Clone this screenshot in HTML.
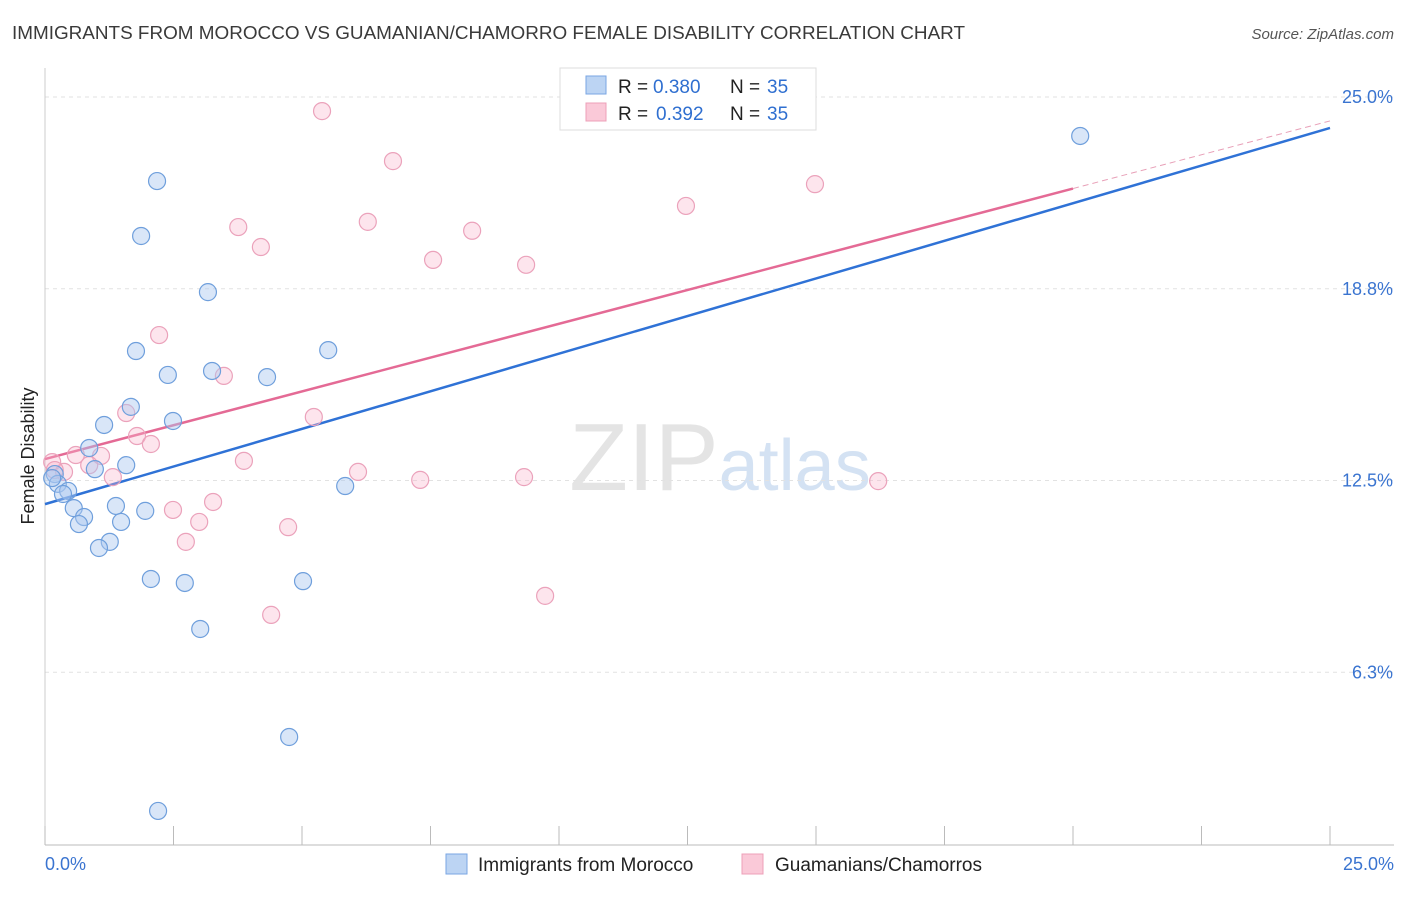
<!DOCTYPE html>
<html><head><meta charset="utf-8">
<style>
body{margin:0;background:#fff;font-family:"Liberation Sans",sans-serif;}
svg text{font-family:"Liberation Sans",sans-serif;}
</style></head>
<body>
<svg id="chart" width="1406" height="892" xmlns="http://www.w3.org/2000/svg">
<text x="12" y="39" font-size="18.9" fill="#3a3a3a">IMMIGRANTS FROM MOROCCO VS GUAMANIAN/CHAMORRO FEMALE DISABILITY CORRELATION CHART</text>
<text x="1394" y="39" font-size="15" fill="#555" text-anchor="end" font-style="italic">Source: ZipAtlas.com</text>
<text x="720" y="490" font-size="96" text-anchor="middle" fill="#e4e4e4" font-family="Liberation Serif">ZIP<tspan fill="#d4e2f3" font-family="Liberation Sans" font-size="72">atlas</tspan></text>
<g id="grid"></g>
<g id="axes"></g>
<g id="lines"></g>
<g id="points"></g>
<text transform="translate(34,456) rotate(-90)" font-size="18" fill="#222" text-anchor="middle">Female Disability</text>
<g>
<rect x="560" y="68" width="256" height="62" fill="#fff" stroke="#ddd"/>
<rect x="586" y="76" width="20" height="18" fill="#bcd4f3" stroke="#7aa6e3"/>
<rect x="586" y="103" width="20" height="18" fill="#fac9d8" stroke="#eda0b8"/>
<text x="618" y="93" font-size="19" fill="#222">R =</text>
<text x="653" y="93" font-size="19" fill="#2f6fd0">0.380</text>
<text x="730" y="93" font-size="19" fill="#222">N =</text>
<text x="767" y="93" font-size="19" fill="#2f6fd0">35</text>
<text x="618" y="120" font-size="19" fill="#222">R =</text>
<text x="656" y="120" font-size="19" fill="#2f6fd0">0.392</text>
<text x="730" y="120" font-size="19" fill="#222">N =</text>
<text x="767" y="120" font-size="19" fill="#2f6fd0">35</text>
</g>
<g>
<rect x="446" y="854" width="21" height="20" fill="#bcd4f3" stroke="#7aa6e3"/>
<text x="478" y="871" font-size="19" fill="#222">Immigrants from Morocco</text>
<rect x="742" y="854" width="21" height="20" fill="#fac9d8" stroke="#eda0b8"/>
<text x="775" y="871" font-size="19" fill="#222">Guamanians/Chamorros</text>
</g>
</svg>
<script>
const yTicks=[25.0,18.75,12.5,6.25];
const yTickLabels=["25.0%","18.8%","12.5%","6.3%"];
const xTickLabels=["0.0%","25.0%"];
const moroccoX=[20.14,2.18,1.87,3.17,1.77,5.51,2.39,3.25,4.32,1.67,1.15,2.49,0.86,1.58,0.97,0.19,0.25,0.45,0.35,0.56,1.38,1.95,0.76,0.66,1.48,1.26,1.05,2.06,2.72,5.02,5.84,3.02,4.75,2.20,0.14];
const moroccoY=[23.73,22.26,20.47,18.64,16.72,16.75,15.94,16.07,15.87,14.90,14.31,14.44,13.56,13.00,12.87,12.71,12.39,12.16,12.06,11.60,11.67,11.51,11.31,11.08,11.15,10.50,10.30,9.29,9.16,9.22,12.32,7.66,4.14,1.73,12.58];
const guamX=[5.39,6.77,14.98,12.47,3.76,6.28,8.31,4.20,7.55,9.36,2.22,3.48,1.58,5.23,1.79,2.06,0.60,1.09,0.86,0.37,3.87,6.09,7.30,9.32,16.21,1.32,3.27,2.49,3.00,2.74,4.73,9.73,4.40,0.14,0.19];
const guamY=[24.54,22.91,22.16,21.45,20.76,20.93,20.64,20.11,19.69,19.53,17.24,15.91,14.70,14.57,13.95,13.69,13.33,13.30,13.00,12.78,13.14,12.78,12.52,12.61,12.48,12.61,11.80,11.54,11.15,10.50,10.98,8.74,8.12,13.10,12.84];
const moroccoLine=[11.73,23.99];
const guamLine=[13.20,24.22];
const guamSolidEnd=20.0;
const NS="http://www.w3.org/2000/svg";
const X=v=>45+v/25*1285;
const Y=v=>864-v/25*767;
function mk(tag,attrs,parent){const e=document.createElementNS(NS,tag);for(const k in attrs)e.setAttribute(k,attrs[k]);document.getElementById(parent).appendChild(e);return e;}
yTicks.forEach((t,i)=>{
  const l=mk('line',{x1:45,x2:1394,y1:Y(t),y2:Y(t),stroke:'#e2e2e2','stroke-dasharray':'4,4'},'grid');
  
  
  const tx=mk('text',{x:1393,y:Y(t)+6,'font-size':18,fill:'#3a74d0','text-anchor':'end'},'axes');
  tx.textContent=yTickLabels[i];
  
  
});
const ax=mk('line',{x1:45,x2:1394,y1:845,y2:845,stroke:'#bbb'},'axes');


const ay=mk('line',{x1:45,x2:45,y1:68,y2:845,stroke:'#ccc'},'axes');


for(let i=0;i<=10;i++){
  const t=mk('line',{x1:X(i*2.5),x2:X(i*2.5),y1:826,y2:845,stroke:'#bbb'},'axes');
  
  
}
[[0,'start',45],[25,'end',1394]].forEach((d,i)=>{
  const tx=mk('text',{x:d[2],y:870,'font-size':18,fill:'#3a74d0','text-anchor':d[1]},'axes');
  tx.textContent=xTickLabels[i];
  
  
});
const bl=mk('line',{x1:X(0),y1:Y(moroccoLine[0]),x2:X(25),y2:Y(moroccoLine[1]),stroke:'#2f72d6','stroke-width':2.5},'lines');


const gy=v=>guamLine[0]+(guamLine[1]-guamLine[0])*v/25;
const pl=mk('line',{x1:X(0),y1:Y(gy(0)),x2:X(guamSolidEnd),y2:Y(gy(guamSolidEnd)),stroke:'#e46a95','stroke-width':2.5},'lines');


const pd=mk('line',{x1:X(guamSolidEnd),y1:Y(gy(guamSolidEnd)),x2:X(25),y2:Y(gy(25)),stroke:'#e8a0b8','stroke-width':1,'stroke-dasharray':'6,4'},'lines');


guamX.forEach((v,i)=>{
  const c=mk('circle',{cx:X(v),cy:Y(guamY[i]),r:8.5,fill:'rgba(248,180,202,0.35)',stroke:'#eba2bb','stroke-width':1.2},'points');
  
  
});
moroccoX.forEach((v,i)=>{
  const c=mk('circle',{cx:X(v),cy:Y(moroccoY[i]),r:8.5,fill:'rgba(170,200,240,0.45)',stroke:'#6f9fdc','stroke-width':1.2},'points');
  
  
});
</script>
</body></html>
